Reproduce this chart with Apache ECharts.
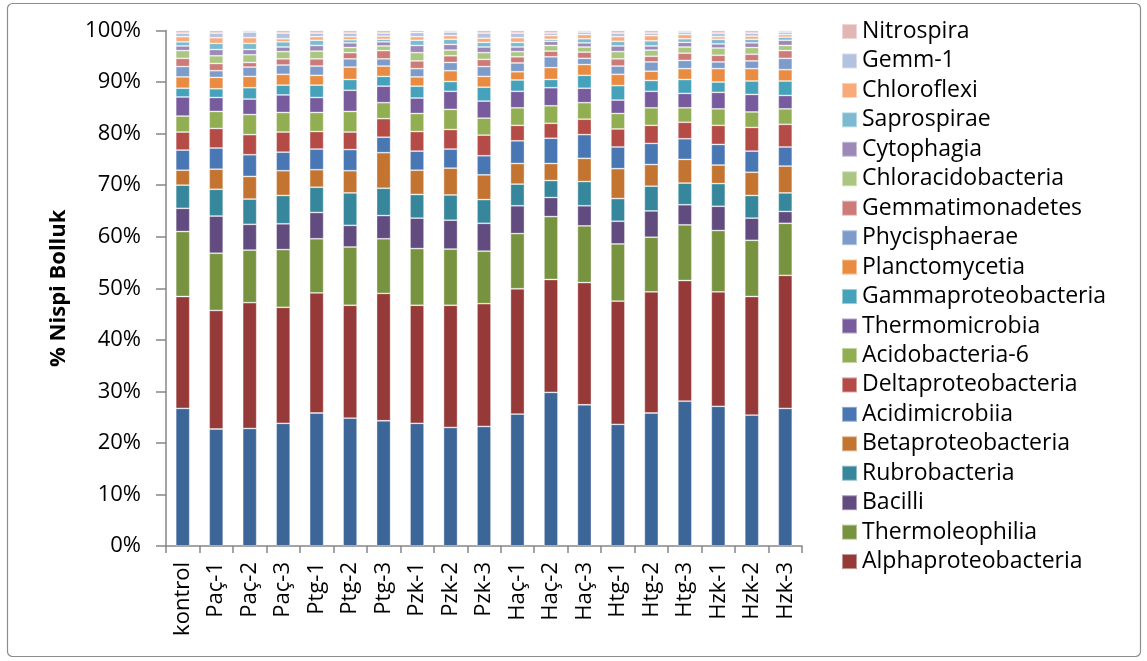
<!DOCTYPE html>
<html>
<head>
<meta charset="utf-8">
<title>% Nispi Bolluk</title>
<script src="https://cdn.jsdelivr.net/npm/echarts@6/dist/echarts.min.js"></script>
<style>
  html, body { margin: 0; padding: 0; background: #ffffff; }
  #chart { width: 1147px; height: 661px; }
</style>
</head>
<body>
<div id="chart"></div>
<script>
// Sample names (x axis)
const samples = ['kontrol', 'Paç-1', 'Paç-2', 'Paç-3', 'Ptg-1', 'Ptg-2', 'Ptg-3', 'Pzk-1', 'Pzk-2', 'Pzk-3',
                 'Haç-1', 'Haç-2', 'Haç-3', 'Htg-1', 'Htg-2', 'Htg-3', 'Hzk-1', 'Hzk-2', 'Hzk-3'];

// Y axis tick values (%)
const yTicks = [0, 10, 20, 30, 40, 50, 60, 70, 80, 90, 100];

// Relative abundance (%) of each class per sample, stacked bottom to top
const actinobacteria      = [26.7, 22.7, 22.8, 23.8, 25.8, 24.8, 24.3, 23.8, 23.0, 23.2, 25.6, 29.8, 27.4, 23.6, 25.8, 28.1, 27.1, 25.4, 26.7];
const alphaproteobacteria = [21.7, 23.0, 24.4, 22.5, 23.3, 21.9, 24.7, 22.9, 23.7, 23.8, 24.3, 21.9, 23.7, 23.9, 23.5, 23.4, 22.2, 23.0, 25.8];
const thermoleophilia     = [12.6, 11.1, 10.2, 11.2, 10.5, 11.3, 10.6, 11.0, 10.9, 10.2, 10.7, 12.2, 11.0, 11.1, 10.6, 10.8, 11.9, 10.9, 10.1];
const bacilli             = [4.5, 7.2, 5.0, 5.0, 5.1, 4.2, 4.5, 5.9, 5.6, 5.4, 5.4, 3.7, 3.9, 4.4, 5.1, 3.9, 4.7, 4.3, 2.3];
const rubrobacteria       = [4.5, 5.2, 4.9, 5.5, 4.9, 6.3, 5.3, 4.6, 4.9, 4.6, 4.2, 3.3, 4.7, 4.4, 4.8, 4.2, 4.4, 4.4, 3.6];
const betaproteobacteria  = [2.9, 3.9, 4.4, 4.8, 3.4, 4.3, 6.9, 4.7, 5.2, 4.8, 4.0, 3.3, 4.5, 5.8, 4.2, 4.6, 3.6, 4.5, 5.2];
const acidimicrobiia      = [3.9, 4.1, 4.2, 3.6, 4.0, 4.1, 3.0, 3.7, 3.7, 3.7, 4.4, 4.9, 4.6, 4.2, 4.1, 4.0, 4.0, 4.1, 3.7];
const deltaproteobacteria = [3.5, 3.8, 3.9, 3.9, 3.4, 3.4, 3.6, 3.8, 3.8, 4.0, 3.0, 2.9, 3.0, 3.5, 3.5, 3.2, 3.7, 4.6, 4.4];
const acidobacteria6      = [3.1, 3.3, 3.9, 3.8, 3.7, 4.0, 3.1, 3.5, 3.9, 3.3, 3.4, 3.4, 3.2, 3.0, 3.4, 2.8, 3.2, 3.0, 3.0];
const thermomicrobia      = [3.7, 2.7, 3.0, 3.4, 2.9, 4.1, 3.2, 3.0, 3.5, 3.3, 3.2, 3.5, 2.8, 2.6, 3.2, 2.8, 3.2, 3.4, 2.6];
const gammaproteobacteria = [1.7, 1.7, 2.2, 1.9, 2.4, 2.1, 1.9, 2.3, 1.9, 2.7, 2.2, 1.6, 2.5, 2.8, 2.1, 2.7, 2.0, 2.6, 2.8];
const planctomycetia      = [2.2, 2.2, 2.2, 2.1, 1.9, 2.4, 2.0, 1.8, 2.1, 2.1, 1.6, 2.3, 2.1, 2.2, 1.8, 2.1, 2.6, 2.4, 2.2];
const phycisphaerae       = [2.0, 1.3, 1.8, 1.8, 1.8, 1.6, 1.4, 1.6, 1.6, 1.9, 1.7, 2.1, 1.2, 1.6, 1.8, 1.6, 1.3, 1.5, 2.2];
const gemmatimonadetes    = [1.6, 1.4, 0.9, 1.2, 1.4, 1.2, 1.6, 1.5, 1.3, 1.4, 1.2, 1.1, 1.2, 1.4, 1.1, 1.4, 1.3, 1.3, 1.5];
const chloracidobacteria  = [1.5, 1.5, 1.5, 1.4, 1.5, 1.0, 0.9, 1.6, 1.1, 1.3, 1.0, 1.1, 1.0, 1.4, 1.2, 1.2, 1.4, 1.3, 1.0];
const cytophagia          = [0.9, 1.2, 1.0, 0.9, 1.1, 0.9, 0.8, 1.4, 1.1, 1.1, 0.9, 0.8, 0.8, 1.1, 0.8, 0.9, 0.8, 0.9, 1.0];
const saprospirae         = [0.8, 1.2, 1.2, 1.0, 1.0, 0.6, 0.5, 1.0, 1.0, 0.9, 0.9, 0.4, 0.8, 0.9, 1.0, 0.7, 0.9, 0.7, 0.6];
const chloroflexi         = [1.0, 1.1, 1.1, 0.6, 0.7, 0.6, 0.6, 0.7, 0.7, 0.8, 0.9, 0.7, 0.8, 0.9, 1.0, 0.8, 0.5, 0.6, 0.5];
const gemm1               = [0.7, 0.9, 1.1, 1.1, 0.7, 0.7, 0.6, 0.8, 0.7, 1.0, 0.9, 0.5, 0.5, 0.7, 0.5, 0.5, 0.7, 0.6, 0.5];
const nitrospira          = [0.5, 0.5, 0.3, 0.5, 0.5, 0.5, 0.5, 0.4, 0.3, 0.5, 0.5, 0.5, 0.3, 0.5, 0.5, 0.3, 0.5, 0.5, 0.3];

// Series definitions, bottom of the stack first
const layers = [
  { name: 'Actinobacteria',      data: actinobacteria,      color: '#3D6698' },
  { name: 'Alphaproteobacteria', data: alphaproteobacteria, color: '#953A38' },
  { name: 'Thermoleophilia',     data: thermoleophilia,     color: '#789340' },
  { name: 'Bacilli',             data: bacilli,             color: '#624B7E' },
  { name: 'Rubrobacteria',       data: rubrobacteria,       color: '#37879C' },
  { name: 'Betaproteobacteria',  data: betaproteobacteria,  color: '#C37431' },
  { name: 'Acidimicrobiia',      data: acidimicrobiia,      color: '#4877B3' },
  { name: 'Deltaproteobacteria', data: deltaproteobacteria, color: '#B44B47' },
  { name: 'Acidobacteria-6',     data: acidobacteria6,      color: '#91AE52' },
  { name: 'Thermomicrobia',      data: thermomicrobia,      color: '#775B9C' },
  { name: 'Gammaproteobacteria', data: gammaproteobacteria, color: '#46A2BB' },
  { name: 'Planctomycetia',      data: planctomycetia,      color: '#E98C41' },
  { name: 'Phycisphaerae',       data: phycisphaerae,       color: '#7D9CC9' },
  { name: 'Gemmatimonadetes',    data: gemmatimonadetes,    color: '#CC7B79' },
  { name: 'Chloracidobacteria',  data: chloracidobacteria,  color: '#AAC681' },
  { name: 'Cytophagia',          data: cytophagia,          color: '#9C89B7' },
  { name: 'Saprospirae',         data: saprospirae,         color: '#7BBAD0' },
  { name: 'Chloroflexi',         data: chloroflexi,         color: '#F8AB79' },
  { name: 'Gemm-1',              data: gemm1,               color: '#B3C2DF' },
  { name: 'Nitrospira',          data: nitrospira,          color: '#E2B6B5' }
];

// Legend lists the top of the stack first; the bottom layer has no entry
const legendNames = layers.slice(1).map(l => l.name).reverse();

const FONT = '"Open Sans", "DejaVu Sans", sans-serif';
const AXIS_GREY = '#868686';

const chart = echarts.init(document.getElementById('chart'), null, { renderer: 'canvas' });

chart.setOption({
  animation: false,
  backgroundColor: '#ffffff',
  textStyle: { fontFamily: FONT, color: '#000000' },
  graphic: [{
    type: 'rect',
    shape: { x: 7.5, y: 3.5, width: 1133, height: 653, r: 5 },
    style: { fill: 'none', stroke: '#8C8C8C', lineWidth: 1.2 },
    silent: true
  }],
  grid: { left: 166, right: 345, top: 30.5, bottom: 115, containLabel: false },
  legend: {
    orient: 'vertical',
    left: 841,
    top: 20,
    padding: 0,
    itemWidth: 15,
    itemHeight: 15,
    itemGap: 6.45,
    icon: 'rect',
    data: legendNames,
    textStyle: { fontFamily: FONT, fontSize: 23, color: '#000000' },
    selectedMode: false
  },
  xAxis: {
    type: 'category',
    data: samples,
    boundaryGap: true,
    axisLine: { lineStyle: { color: AXIS_GREY, width: 1.5 } },
    axisTick: { show: true, interval: 0, length: 7, lineStyle: { color: AXIS_GREY, width: 1.5 } },
    axisLabel: { interval: 0, rotate: 90, margin: 16, fontSize: 22, color: '#000000', fontFamily: FONT }
  },
  yAxis: {
    type: 'value',
    min: yTicks[0],
    max: yTicks[yTicks.length - 1],
    interval: yTicks[1] - yTicks[0],
    name: '% Nispi Bolluk',
    nameLocation: 'middle',
    nameRotate: 90,
    nameGap: 96,
    nameTextStyle: { fontFamily: FONT, fontSize: 22, fontWeight: 'bold', color: '#000000' },
    splitLine: { show: false },
    axisLine: { show: true, lineStyle: { color: AXIS_GREY, width: 1.5 } },
    axisTick: { show: true, length: 10, lineStyle: { color: AXIS_GREY, width: 1.5 } },
    axisLabel: { margin: 25, fontSize: 22, color: '#000000', fontFamily: FONT, formatter: '{value}%' }
  },
  series: layers.map(l => ({
    name: l.name,
    type: 'bar',
    stack: 'total',
    barWidth: 14,
    data: l.data,
    itemStyle: { color: l.color, borderColor: 'rgba(255,255,255,0.45)', borderWidth: 0.8 },
    emphasis: { disabled: true }
  }))
});
</script>
</body>
</html>
